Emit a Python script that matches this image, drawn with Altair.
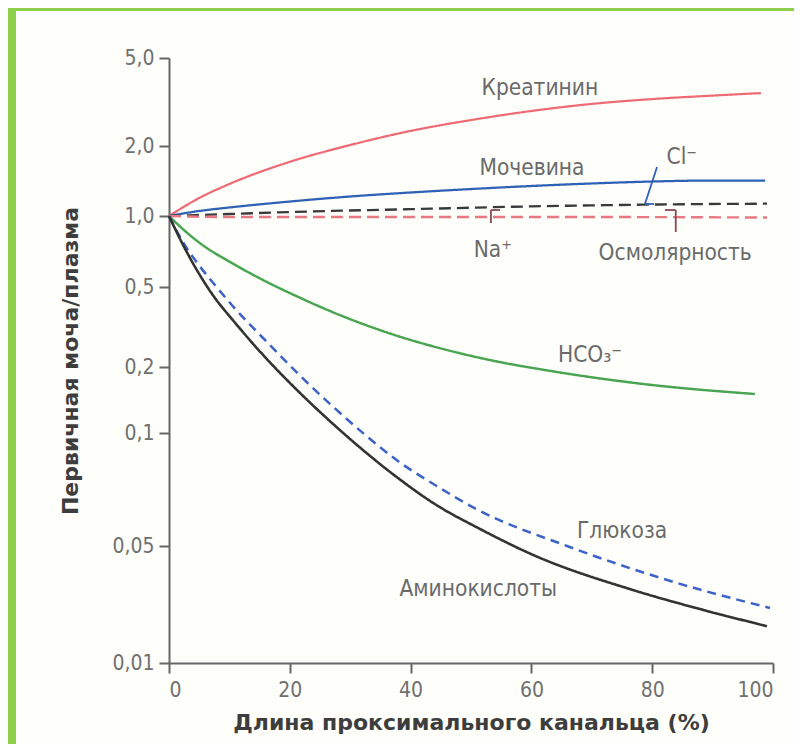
import altair as alt
import pandas as pd

# ---- data (x = % of proximal tubule length, y = TF/P ratio) ----
kreat_x = [0, 5, 10, 20, 30, 40, 50, 60, 70, 80, 90, 98]
kreat_y = [1.0, 1.195, 1.373, 1.71, 2.02, 2.34, 2.62, 2.88, 3.10, 3.26, 3.38, 3.47]

urea_x = [0, 5, 10, 20, 30, 40, 50, 60, 70, 80, 90, 98.7]
urea_y = [1.0, 1.051, 1.088, 1.154, 1.213, 1.262, 1.306, 1.346, 1.380, 1.407, 1.421, 1.421]

cl_x = [0, 10, 20, 40, 60, 80, 99]
cl_y = [1.0, 1.02, 1.04, 1.07, 1.10, 1.12, 1.13]

na_x = [0, 10, 40, 70, 99]
na_y = [1.0, 0.99, 0.99, 0.99, 0.985]

hco3_x = [0, 2.65, 5.1, 10.4, 15.9, 21.4, 27.0, 32.5, 37.9, 43.5, 53.1, 63.1, 79.6, 97.0]
hco3_y = [1.0, 0.864, 0.768, 0.632, 0.530, 0.446, 0.376, 0.324, 0.285, 0.2544, 0.2167, 0.192, 0.166, 0.1506]

gluc_x = [0, 2.5, 4.8, 7.6, 10.4, 15.9, 21.4, 27.0, 32.5, 37.9, 43.5, 51.5, 65.9, 82.5, 99.5]
gluc_y = [1.0, 0.761, 0.626, 0.510, 0.407, 0.2725, 0.186, 0.133, 0.0988, 0.0842, 0.0736, 0.0620, 0.050, 0.0313, 0.0213]

amino_x = [0, 2.5, 4.8, 7.6, 10.4, 15.9, 21.4, 27.0, 32.5, 37.9, 44.0, 51.5, 60.3, 76.8, 87.9, 99]
amino_y = [1.0, 0.739, 0.579, 0.441, 0.347, 0.224, 0.155, 0.111, 0.089, 0.0759, 0.0647, 0.0555, 0.0442, 0.0273, 0.0210, 0.0166]

series_names = ["Креатинин", "Мочевина", "Cl", "Na/Осм", "HCO3", "Глюкоза", "Аминокислоты"]
series_colors = ["#ee6a74", "#2f62b6", "#3a3a3a", "#e87882", "#4aa552", "#3d63c9", "#333333"]
series_dash = [[1, 0], [1, 0], [12, 6], [12, 6], [1, 0], [9, 6], [1, 0]]
series_width = [2.2, 2.6, 2.6, 2.2, 2.2, 2.4, 2.6]

# tick values
y_ticks = [0.01, 0.05, 0.1, 0.2, 0.5, 1, 2, 5]
y_tick_px = [605, 488, 375, 309, 229, 158, 88, 0]   # uneven spacing of the printed axis
x_ticks = [0, 20, 40, 60, 80, 100]

# annotation labels (data coordinates)
label_text = ["Креатинин", "Мочевина", "Cl⁻", "Na⁺", "Осмолярность", "HCO₃⁻", "Глюкоза", "Аминокислоты"]
label_x = [61.4, 60.1, 84.9, 53.6, 83.8, 69.7, 75.0, 51.2]
label_y = [3.66, 1.61, 1.79, 0.717, 0.697, 0.229, 0.0548, 0.0277]

# leader lines (data coordinates)
lead_x = [53.3, 53.3, 83.9, 82.1, 78.8, 78.8]
lead_x2 = [53.3, 54.8, 83.9, 83.9, 80.8, 80.3]
lead_y = [1.061, 1.061, 1.061, 1.061, 1.126, 1.126]
lead_y2 = [0.934, 1.061, 0.855, 1.061, 1.625, 1.126]
lead_c = ["#8a4a55", "#8a4a55", "#8a4a55", "#8a4a55", "#2f62b6", "#2f62b6"]

rows = []
for name, xs, ys in zip(series_names,
                        [kreat_x, urea_x, cl_x, na_x, hco3_x, gluc_x, amino_x],
                        [kreat_y, urea_y, cl_y, na_y, hco3_y, gluc_y, amino_y]):
    for a, b in zip(xs, ys):
        rows.append({"series": name, "x": a, "y": b})
df = pd.DataFrame(rows)

W, H = 604, 605
COND = "DejaVu Sans Condensed, Liberation Sans Narrow, sans-serif"

xscale = alt.Scale(domain=[0, 100], nice=False, zero=False)
yscale = alt.Scale(type="log", domain=y_ticks, range=y_tick_px, nice=False)

lines = alt.Chart(df).mark_line(interpolate="monotone").encode(
    x=alt.X("x:Q", scale=xscale, axis=alt.Axis(
        values=x_ticks, format="d", grid=False,
        title="Длина проксимального канальца (%)",
        titleFont="DejaVu Sans", titleFontWeight="bold", titleFontSize=22,
        titleColor="#3d3d3d", titleY=59, titleBaseline="middle",
        labelFont=COND, labelFontSize=21, labelColor="#707070",
        labelPadding=6, tickSize=10, tickWidth=2, tickColor="#666",
        domainColor="#666", domainWidth=2)),
    y=alt.Y("y:Q", scale=yscale, axis=alt.Axis(
        values=y_ticks, grid=False,
        labelExpr="replace(datum.value >= 1 ? format(datum.value, '.1f') : format(datum.value, ''), '.', ',')",
        title="Первичная моча/плазма",
        titleFont="DejaVu Sans", titleFontWeight="bold", titleFontSize=22,
        titleColor="#3d3d3d", titleX=-99, titleY=H / 2, titleAngle=270,
        titleAlign="center", titleBaseline="middle",
        labelFont=COND, labelFontSize=21, labelColor="#707070",
        labelPadding=5, tickSize=10, tickWidth=2, tickColor="#666",
        domainColor="#666", domainWidth=2)),
    color=alt.Color("series:N", scale=alt.Scale(domain=series_names, range=series_colors), legend=None),
    strokeDash=alt.StrokeDash("series:N", scale=alt.Scale(domain=series_names, range=series_dash), legend=None),
    strokeWidth=alt.StrokeWidth("series:N", scale=alt.Scale(domain=series_names, range=series_width), legend=None),
)

labels_df = pd.DataFrame({"t": label_text, "x": label_x, "y": label_y})
labels = alt.Chart(labels_df).mark_text(
    font=COND, fontSize=22.5, color="#6a6a6a", align="center", baseline="middle"
).encode(x=alt.X("x:Q", scale=xscale), y=alt.Y("y:Q", scale=yscale), text="t:N")

lead_df = pd.DataFrame({"x": lead_x, "x2": lead_x2, "y": lead_y, "y2": lead_y2, "c": lead_c})
leads = alt.Chart(lead_df).mark_rule(strokeWidth=1.8).encode(
    x=alt.X("x:Q", scale=xscale), x2="x2:Q",
    y=alt.Y("y:Q", scale=yscale), y2="y2:Q",
    color=alt.Color("c:N", scale=None, legend=None),
)

one = pd.DataFrame({"k": [0]})
frame_left = alt.Chart(one).mark_rect(color="#8fd04a").encode(
    x=alt.value(-161), x2=alt.value(-153), y=alt.value(-50), y2=alt.value(H + 81))
frame_top = alt.Chart(one).mark_rect(color="#8fd04a").encode(
    x=alt.value(-161), x2=alt.value(W + 21), y=alt.value(-50), y2=alt.value(-47))

chart = alt.layer(frame_left, frame_top, lines, leads, labels).properties(
    width=W, height=H,
    autosize=alt.AutoSizeParams(type="none"),
    padding={"left": 161, "top": 50, "right": 21, "bottom": 81},
    background="#fefefa",
).resolve_scale(color="independent").configure_view(stroke=None)

chart.save("out.html", embed_options={"renderer": "svg", "actions": False})
